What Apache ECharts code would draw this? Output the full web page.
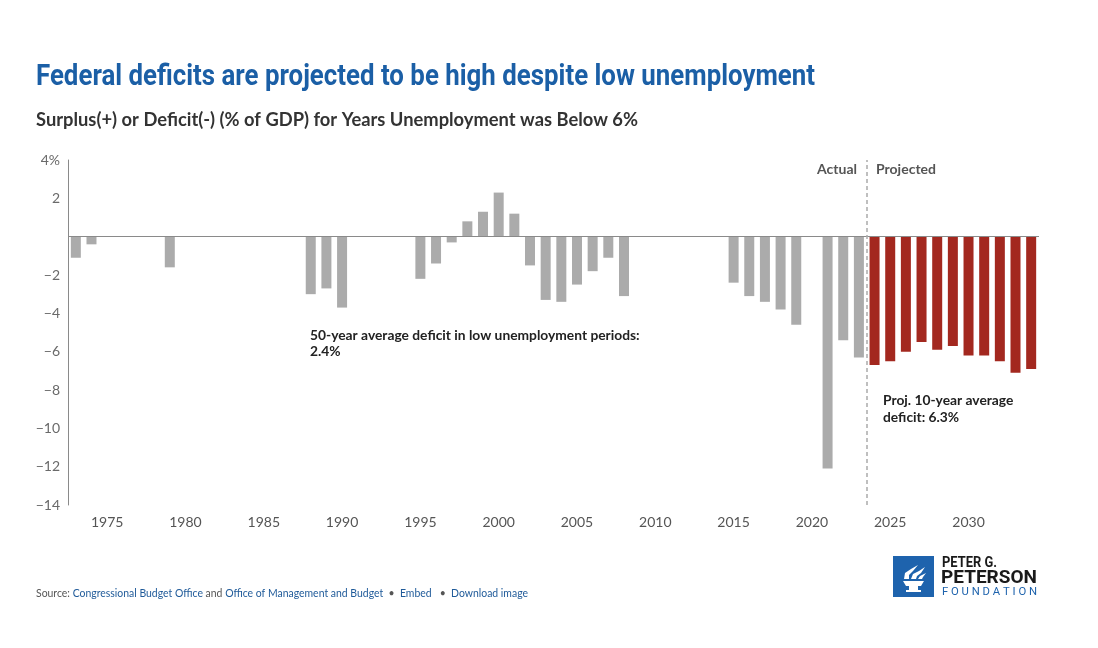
<!DOCTYPE html>
<html>
<head>
<meta charset="utf-8">
<script src="https://cdn.jsdelivr.net/npm/echarts@6/dist/echarts.min.js"></script>
<style>
html,body{margin:0;padding:0;background:#fff;}
#chart{width:1098px;height:648px;}
</style>
</head>
<body>
<div id="chart"></div>
<script>
const years = ['1973','1974','1975','1976','1977','1978','1979','1980','1981','1982','1983','1984','1985','1986','1987','1988','1989','1990','1991','1992','1993','1994','1995','1996','1997','1998','1999','2000','2001','2002','2003','2004','2005','2006','2007','2008','2009','2010','2011','2012','2013','2014','2015','2016','2017','2018','2019','2020','2021','2022','2023','2024','2025','2026','2027','2028','2029','2030','2031','2032','2033','2034'];

const actualValues = [-1.1,-0.4,null,null,null,null,-1.6,null,null,null,null,null,null,null,null,-3.0,-2.7,-3.7,null,null,null,null,-2.2,-1.4,-0.3,0.8,1.3,2.3,1.2,-1.5,-3.3,-3.4,-2.5,-1.8,-1.1,-3.1,null,null,null,null,null,null,-2.4,-3.1,-3.4,-3.8,-4.6,null,-12.1,-5.4,-6.3,null,null,null,null,null,null,null,null,null,null,null];

const projectedValues = [null,null,null,null,null,null,null,null,null,null,null,null,null,null,null,null,null,null,null,null,null,null,null,null,null,null,null,null,null,null,null,null,null,null,null,null,null,null,null,null,null,null,null,null,null,null,null,null,null,null,null,-6.7,-6.5,-6.0,-5.5,-5.9,-5.7,-6.2,-6.2,-6.5,-7.1,-6.9];

const dividerYear = 2023.5;

const titleText = 'Federal deficits are projected to be high despite low unemployment';
const subtitleText = 'Surplus(+) or Deficit(-) (% of GDP) for Years Unemployment was Below 6%';
const footerPlain = 'Source: Congressional Budget Office and Office of Management and Budget  \u2022  Embed   \u2022  Download image';

function fitScale(text, font, target) {
  const c = document.createElement('canvas').getContext('2d');
  c.font = font;
  return target / c.measureText(text).width;
}

const titleFont = 'bold 29px Roboto';
const subFont = 'bold 18px Lato';
const noteFont = 'bold 13.8px Lato';
const titleScale = fitScale(titleText, titleFont, 779);
const subScale = fitScale(subtitleText, subFont, 602);
const footScale = fitScale(footerPlain, '12px Lato', 492);
const logo1Scale = fitScale('PETER G.', 'bold 15px Roboto', 55);
const logo2Scale = fitScale('PETERSON', 'bold 18px Roboto', 96);
const logo3Scale = fitScale('F O U N D A T I O N', '10px Roboto', 95);

const chart = echarts.init(document.getElementById('chart'));

const option = {
  animation: false,
  backgroundColor: '#ffffff',
  grid: { left: 68, right: 59, top: 160, bottom: 143, containLabel: false },
  xAxis: [{
    type: 'category',
    data: years,
    axisLine: { show: false, onZero: false },
    axisTick: { show: false },
    axisLabel: {
      interval: function (i, v) { return Number(v) % 5 === 0; },
      color: '#555',
      fontFamily: 'Lato',
      fontSize: 14,
      margin: 10
    },
    splitLine: { show: false }
  }, {
    type: 'value',
    min: 1972.5,
    max: 2034.5,
    show: false
  }],
  yAxis: {
    type: 'value',
    min: -14,
    max: 4,
    interval: 2,
    axisLine: { show: true, lineStyle: { color: '#8a8a8a', width: 1 } },
    axisTick: { show: false },
    splitLine: { show: false },
    axisLabel: {
      color: '#6a6a6a',
      fontFamily: 'Lato',
      fontSize: 14,
      margin: 8,
      formatter: function (v) {
        if (v === 4) return '4%';
        if (v === 0) return '';
        if (v < 0) return '\u2212' + Math.abs(v);
        return String(v);
      }
    }
  },
  series: [{
    name: 'Actual',
    type: 'bar',
    data: actualValues,
    barWidth: 10,
    barGap: '-100%',
    itemStyle: { color: '#ababab' },
    markLine: {
      silent: true,
      symbol: 'none',
      label: { show: false },
      lineStyle: { color: '#8a8a8a', type: 'solid', width: 1.2 },
      data: [{ yAxis: 0 }]
    }
  }, {
    name: 'Projected',
    type: 'bar',
    data: projectedValues,
    barWidth: 10,
    barGap: '-100%',
    itemStyle: { color: '#a3281f' }
  }, {
    name: 'divider',
    type: 'line',
    xAxisIndex: 1,
    data: [],
    markLine: {
      silent: true,
      symbol: 'none',
      label: { show: false },
      lineStyle: { color: '#aaaaaa', type: [4, 3], width: 1.5 },
      data: [{ xAxis: dividerYear }]
    }
  }],
  graphic: [
    {
      type: 'text', x: 36, y: 78, scaleX: titleScale,
      style: { text: titleText, font: titleFont, fill: '#1b5fa6', verticalAlign: 'middle', textVerticalAlign: 'middle' }
    },
    {
      type: 'text', x: 36, y: 120, scaleX: subScale,
      style: { text: subtitleText, font: subFont, fill: '#333333', verticalAlign: 'middle', textVerticalAlign: 'middle' }
    },
    {
      type: 'text', x: 857, y: 169,
      style: { text: 'Actual', font: 'bold 14px Lato', fill: '#555', align: 'right', textAlign: 'right', verticalAlign: 'middle', textVerticalAlign: 'middle' }
    },
    {
      type: 'text', x: 876, y: 169,
      style: { text: 'Projected', font: 'bold 14px Lato', fill: '#555', verticalAlign: 'middle', textVerticalAlign: 'middle' }
    },
    {
      type: 'text', x: 310, y: 336,
      style: { text: '50-year average deficit in low unemployment periods:', font: noteFont, fill: '#222', verticalAlign: 'middle', textVerticalAlign: 'middle' }
    },
    {
      type: 'text', x: 310, y: 352,
      style: { text: '2.4%', font: noteFont, fill: '#222', verticalAlign: 'middle', textVerticalAlign: 'middle' }
    },
    {
      type: 'text', x: 883, y: 401,
      style: { text: 'Proj. 10-year average', font: noteFont, fill: '#222', verticalAlign: 'middle', textVerticalAlign: 'middle' }
    },
    {
      type: 'text', x: 883, y: 418,
      style: { text: 'deficit: 6.3%', font: noteFont, fill: '#222', verticalAlign: 'middle', textVerticalAlign: 'middle' }
    },
    {
      type: 'text', x: 36, y: 593, scaleX: footScale,
      style: {
        text: '{g|Source: }{b|Congressional Budget Office}{g| and }{b|Office of Management and Budget}{g|  \u2022  }{b|Embed}{g|   \u2022  }{b|Download image}',
        verticalAlign: 'middle', textVerticalAlign: 'middle',
        rich: {
          g: { font: '12px Lato', fill: '#555555' },
          b: { font: '12px Lato', fill: '#1f5a99' }
        }
      }
    },
    // logo
    { type: 'rect', shape: { x: 893, y: 556, width: 41, height: 41 }, style: { fill: '#1e63ad' } },
    { type: 'polygon', shape: { points: [[903, 581], [924, 581], [921, 586], [906, 586]] }, style: { fill: '#fff' } },
    { type: 'rect', shape: { x: 909, y: 586, width: 9, height: 4 }, style: { fill: '#fff' } },
    { type: 'rect', shape: { x: 906, y: 590, width: 15, height: 2 }, style: { fill: '#fff' } },
    { type: 'polygon', shape: { points: [[904, 579], [905, 573], [911, 569], [918, 565], [913, 571], [909, 575], [909, 579]] }, style: { fill: '#fff' } },
    { type: 'polygon', shape: { points: [[911, 579], [913, 574], [919, 571], [925, 567], [921, 573], [917, 576], [916, 579]] }, style: { fill: '#fff' } },
    { type: 'polygon', shape: { points: [[918, 579], [920, 576], [926, 573], [923, 577], [922, 579]] }, style: { fill: '#fff' } },
    {
      type: 'text', x: 942, y: 563, scaleX: logo1Scale,
      style: { text: 'PETER G.', font: 'bold 15px Roboto', fill: '#1a1a1a', verticalAlign: 'middle', textVerticalAlign: 'middle' }
    },
    {
      type: 'text', x: 941, y: 578, scaleX: logo2Scale,
      style: { text: 'PETERSON', font: 'bold 18px Roboto', fill: '#1a1a1a', verticalAlign: 'middle', textVerticalAlign: 'middle' }
    },
    {
      type: 'text', x: 942, y: 592, scaleX: logo3Scale,
      style: { text: 'F O U N D A T I O N', font: '10px Roboto', fill: '#1e63ad', verticalAlign: 'middle', textVerticalAlign: 'middle' }
    }
  ]
};

chart.setOption(option);
</script>
</body>
</html>
